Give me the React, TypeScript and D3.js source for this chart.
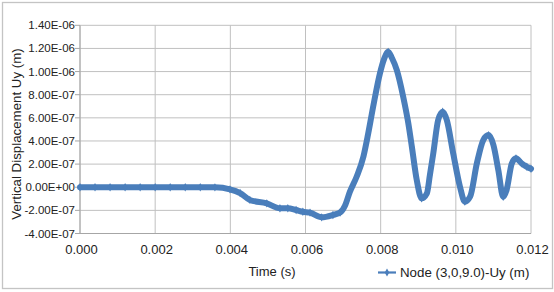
import React from "react";
import * as d3 from "d3";

const timeS = [
  0, 0.0004, 0.0008, 0.0012, 0.0016, 0.002, 0.0024, 0.0028, 0.0032, 0.00359,
  0.00399, 0.00426, 0.00452, 0.00497, 0.00532, 0.00553, 0.00575, 0.00593, 0.00612,
  0.00643, 0.00673, 0.00692, 0.00705, 0.00718, 0.00736, 0.00754, 0.00766, 0.0078,
  0.00798, 0.00809, 0.0082, 0.0083, 0.00843, 0.0086, 0.00873, 0.00883, 0.00896,
  0.00909, 0.00923, 0.00931, 0.0094, 0.00953, 0.00965, 0.00976, 0.00993, 0.01011,
  0.01024, 0.01038, 0.01056, 0.01073, 0.01087, 0.011, 0.01113, 0.01126, 0.01135,
  0.01149, 0.0116, 0.01175, 0.01189, 0.012,
];
const uyM = [
  0, 0, 0, 0, 0, 0, 0, 0, 0, -0.01e-7,
  -0.18e-7, -0.5e-7, -1.1e-7, -1.39e-7, -1.82e-7, -1.82e-7, -1.97e-7, -2.12e-7, -2.2e-7,
  -2.6e-7, -2.4e-7, -2.19e-7, -1.6e-7, -0.4e-7, 0.91e-7, 2.64e-7, 4.5e-7, 6.96e-7,
  9.84e-7, 11.08e-7, 11.71e-7, 11.17e-7, 10.13e-7, 7.82e-7, 5.64e-7, 3.5e-7, 0.62e-7,
  -0.96e-7, -0.53e-7, 1.05e-7, 2.93e-7, 5.81e-7, 6.53e-7, 5.81e-7, 2.93e-7, 0.04e-7,
  -1.25e-7, -0.82e-7, 2.07e-7, 4.08e-7, 4.51e-7, 3.65e-7, 1.49e-7, -0.82e-7, -0.24e-7,
  2.07e-7, 2.5e-7, 2.07e-7, 1.77e-7, 1.6e-7,
];
const xTicks = [0, 0.002, 0.004, 0.006, 0.008, 0.01, 0.012];
const yTicks = [-4e-7, -2e-7, 0, 2e-7, 4e-7, 6e-7, 8e-7, 1e-6, 1.2e-6, 1.4e-6];
const seriesName = "Node (3,0,9.0)-Uy (m)";
const xTitle = "Time (s)";
const yTitle = "Vertical Displacement Uy (m)";

const W = 554;
const H = 292;
const L = 80, R = 531, T = 25.3, B = 233.5;
const COLOR = "#4a7ebb";
const FONT = "'Liberation Sans', Arial, sans-serif";

function fmtY(v: number): string {
  if (v === 0) return "0.00E+00";
  const e = Math.floor(Math.log10(Math.abs(v)) + 1e-9);
  const m = v / Math.pow(10, e);
  const sign = e < 0 ? "-" : "+";
  const ea = Math.abs(e);
  return `${m.toFixed(2)}E${sign}${ea < 10 ? "0" + ea : ea}`;
}

export default function App() {
  const x = d3.scaleLinear().domain([0, 0.012]).range([L, R]);
  const y = d3.scaleLinear().domain([-4e-7, 1.4e-6]).range([B, T]);
  const pts: [number, number][] = timeS.map((t, i) => [x(t), y(uyM[i])]);
  const line = d3.line().curve(d3.curveMonotoneX)(pts) || "";
  const diamond = d3.symbol().type(d3.symbolDiamond).size(20)() || "";

  return (
    <svg width={W} height={H} style={{ position: "absolute", left: 0, top: 0 }} fontFamily={FONT}>
      <rect x={0} y={0} width={W} height={H} fill="#fff" />
      <rect x={2.5} y={2.5} width={550} height={286} fill="none" stroke="#c4c4c4" strokeWidth={1.3} />
      {yTicks.map((v) => (
        <line key={"gy" + v} x1={L} x2={R} y1={y(v)} y2={y(v)} stroke="#c0c0c0" strokeWidth={1} />
      ))}
      {xTicks.map((v) => (
        <line key={"gx" + v} x1={x(v)} x2={x(v)} y1={T} y2={B} stroke="#c0c0c0" strokeWidth={1} />
      ))}
      <line x1={L} x2={L} y1={T} y2={B} stroke="#a6a6a6" strokeWidth={1} />
      <line x1={L} x2={R} y1={B} y2={B} stroke="#a6a6a6" strokeWidth={1} />
      {yTicks.map((v) => (
        <g key={"ty" + v}>
          <line x1={L - 5} x2={L} y1={y(v)} y2={y(v)} stroke="#a6a6a6" />
          <text x={L - 5} y={y(v)} dy="0.35em" textAnchor="end" fontSize={11.5} fill="#222">
            {fmtY(v)}
          </text>
        </g>
      ))}
      {xTicks.map((v) => (
        <text key={"tx" + v} x={x(v) + 1.5} y={254} textAnchor="middle" fontSize={13} fill="#222">
          {v.toFixed(3)}
        </text>
      ))}
      <text x={272} y={276} textAnchor="middle" fontSize={13} fill="#222">{xTitle}</text>
      <text transform="translate(20.5,134) rotate(-90)" textAnchor="middle" fontSize={13.3} fill="#222">
        {yTitle}
      </text>
      <path d={line} fill="none" stroke={COLOR} strokeWidth={6} strokeLinejoin="round" strokeLinecap="round" />
      {pts.map((p, i) => (
        <path key={"m" + i} d={diamond} transform={`translate(${p[0]},${p[1]})`} fill={COLOR} />
      ))}
      <line x1={378} x2={396} y1={272.5} y2={272.5} stroke={COLOR} strokeWidth={2.2} />
      <path d={d3.symbol().type(d3.symbolDiamond).size(18)() || ""} transform="translate(387,272.5)" fill={COLOR} />
      <text x={400} y={277} fontSize={13.3} fill="#222">{seriesName}</text>
    </svg>
  );
}
